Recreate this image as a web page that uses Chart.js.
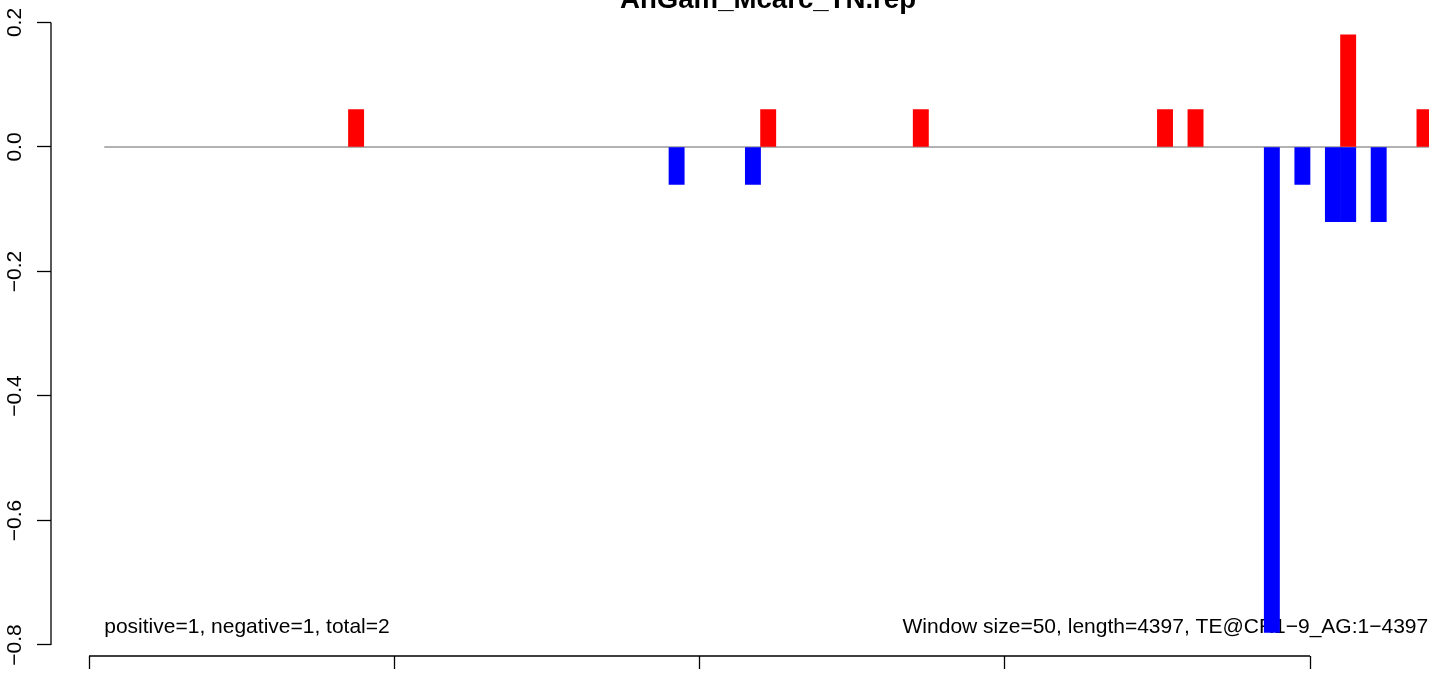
<!DOCTYPE html>
<html>
<head>
<meta charset="utf-8">
<style>
  html, body { margin: 0; padding: 0; background: #fff; overflow: hidden; }
  #chart { display: block; }
</style>
<script src="https://cdn.jsdelivr.net/npm/chart.js@4/dist/chart.umd.min.js"></script>
</head>
<body>
<canvas id="chart" width="1429" height="675"></canvas>
<script>
// window data (start position in bp, value)
const windowSize = 50;
const seqLength = 4397;
const titleText = 'AnGam_Mcarc_TN.rep';
const posStarts = [850, 2200, 2700, 3500, 3600, 4100, 4350];
const posValues = [0.06, 0.06, 0.06, 0.06, 0.06, 0.18, 0.06];
const negStarts = [1900, 2150, 3850, 3950, 4050, 4100, 4200];
const negValues = [-0.06, -0.06, -0.78, -0.06, -0.12, -0.12, -0.12];
const xTicks = [0, 1000, 2000, 3000, 4000];
const yTicks = [-0.8, -0.6, -0.4, -0.2, 0.0, 0.2];
const leftNote = 'positive=1, negative=1, total=2';
const rightNote = 'Window size=50, length=4397, TE@CR1\u22129_AG:1\u22124397';

const FONT = "'Liberation Sans', Arial, Helvetica, sans-serif";

function toPoints(starts, values) {
    return starts.map((s, i) => ({ x: s + windowSize / 2, y: values[i] }));
}

const annotate = {
    id: 'annotate',
    beforeDatasetsDraw(chart) {
        const ctx = chart.ctx;
        const x = chart.scales.x;
        const y = chart.scales.y;
        ctx.save();
        ctx.fillStyle = '#000';
        ctx.font = '21px ' + FONT;
        ctx.textBaseline = 'alphabetic';
        const base = chart.chartArea.bottom - 23;
        ctx.textAlign = 'left';
        ctx.fillText(leftNote, x.getPixelForValue(windowSize), base);
        ctx.textAlign = 'right';
        ctx.fillText(rightNote, x.getPixelForValue(seqLength) - 3, base);

        // axis lines, R style (only between the outer ticks)
        ctx.strokeStyle = '#000';
        ctx.lineWidth = 1.3;
        ctx.beginPath();
        const left = chart.chartArea.left;
        ctx.moveTo(left, y.getPixelForValue(yTicks[yTicks.length - 1]));
        ctx.lineTo(left, y.getPixelForValue(yTicks[0]));
        const bottom = chart.chartArea.bottom;
        ctx.moveTo(x.getPixelForValue(xTicks[0]), bottom);
        ctx.lineTo(x.getPixelForValue(xTicks[xTicks.length - 1]), bottom);
        ctx.stroke();
        ctx.restore();
    },
    afterDraw(chart) {
        const ctx = chart.ctx;
        ctx.save();
        ctx.fillStyle = '#000';
        ctx.font = 'bold 27.6px ' + FONT;
        ctx.textAlign = 'center';
        ctx.textBaseline = 'alphabetic';
        ctx.fillText(titleText, 768, 7.5);
        ctx.restore();
    }
};

new Chart(document.getElementById('chart'), {
    type: 'bar',
    data: {
        datasets: [
            {
                type: 'line',
                data: [{ x: windowSize, y: 0 }, { x: seqLength + 3, y: 0 }],
                borderColor: '#666666',
                borderWidth: 1.2,
                pointRadius: 0,
                order: 5
            },
            {
                data: toPoints(posStarts, posValues),
                backgroundColor: '#ff0000',
                barPercentage: 1,
                categoryPercentage: 1,
                grouped: false,
                order: 1
            },
            {
                data: toPoints(negStarts, negValues),
                backgroundColor: '#0000ff',
                barPercentage: 1,
                categoryPercentage: 1,
                grouped: false,
                order: 2
            }
        ]
    },
    options: {
        responsive: false,
        animation: false,
        events: [],
        layout: { padding: { top: 22.5, left: 0, right: 0, bottom: 0 } },
        plugins: {
            legend: { display: false },
            tooltip: { enabled: false },
            title: { display: false }
        },
        scales: {
            x: {
                type: 'linear',
                offset: false,
                min: -124.5,
                max: 4389.8,
                afterBuildTicks: (scale) => { scale.ticks = xTicks.map(v => ({ value: v })); },
                afterFit: (scale) => { scale.height = 19; },
                border: { display: false },
                grid: {
                    offset: false,
                    drawOnChartArea: false,
                    drawTicks: true,
                    tickLength: 13,
                    tickColor: '#000',
                    tickWidth: 1.3
                },
                ticks: { display: false }
            },
            y: {
                min: -0.8177,
                max: 0.2,
                afterBuildTicks: (scale) => { scale.ticks = yTicks.map(v => ({ value: v })); },
                afterFit: (scale) => { scale.width = 51; },
                border: { display: false },
                grid: {
                    drawOnChartArea: false,
                    drawTicks: true,
                    tickLength: 14,
                    tickColor: '#000',
                    tickWidth: 1.3
                },
                ticks: {
                    minRotation: 90,
                    maxRotation: 90,
                    crossAlign: 'center',
                    padding: 1,
                    color: '#000',
                    font: { family: FONT, size: 21 },
                    callback: (v) => Number(v).toFixed(1).replace('-', '\u2212')
                }
            }
        }
    },
    plugins: [annotate]
});
</script>
</body>
</html>
